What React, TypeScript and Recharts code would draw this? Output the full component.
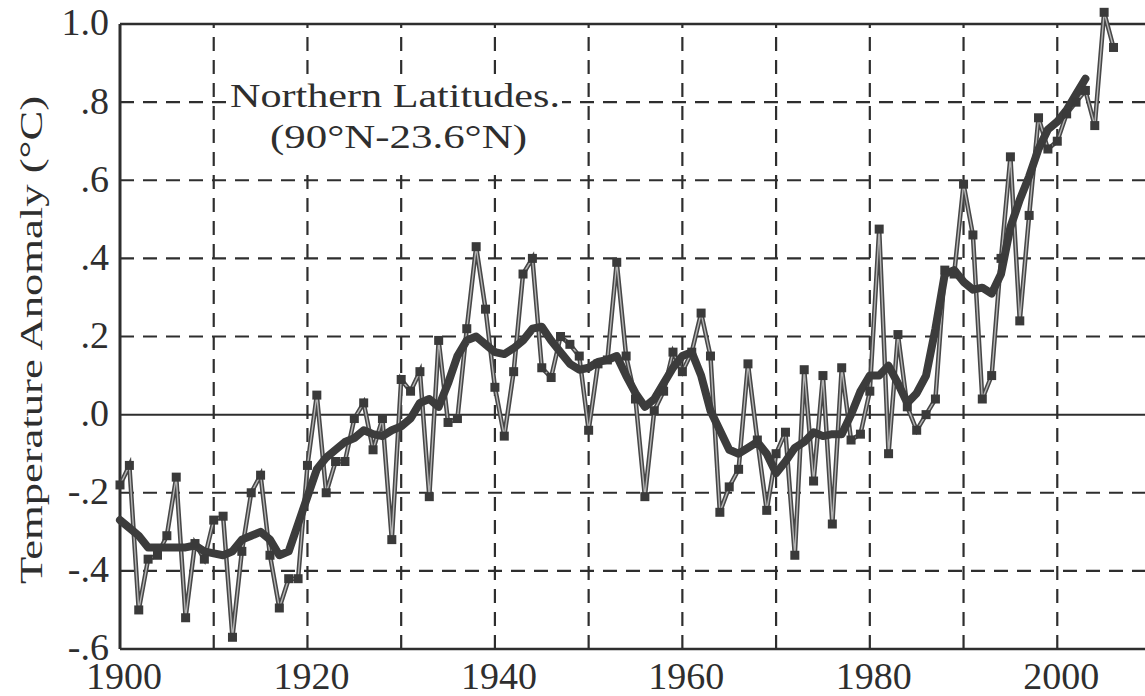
import React from 'react';
import { LineChart, Line, XAxis, YAxis, ReferenceLine } from 'recharts';

const startYear = 1900;

// Annual Northern-latitude temperature anomaly (°C), 1900–2006
const annualAnomaly = [
  -0.18, -0.13, -0.5, -0.37, -0.36, -0.31, -0.16, -0.52, -0.33, -0.37,
  -0.27, -0.26, -0.57, -0.35, -0.2, -0.155, -0.36, -0.495, -0.42, -0.42,
  -0.13, 0.05, -0.2, -0.12, -0.12, -0.01, 0.03, -0.09, -0.01, -0.32,
  0.09, 0.06, 0.11, -0.21, 0.19, -0.02, -0.01, 0.22, 0.43, 0.27,
  0.07, -0.055, 0.11, 0.36, 0.4, 0.12, 0.095, 0.2, 0.18, 0.15,
  -0.04, 0.13, 0.14, 0.39, 0.15, 0.04, -0.21, 0.01, 0.06, 0.16,
  0.11, 0.16, 0.26, 0.15, -0.25, -0.185, -0.14, 0.13, -0.065, -0.245,
  -0.1, -0.045, -0.36, 0.115, -0.17, 0.1, -0.28, 0.12, -0.065, -0.05,
  0.06, 0.475, -0.1, 0.205, 0.02, -0.04, 0.0, 0.04, 0.37, 0.36,
  0.59, 0.46, 0.04, 0.1, 0.4, 0.66, 0.24, 0.51, 0.76, 0.68,
  0.7, 0.77, 0.8, 0.83, 0.74, 1.03, 0.94,
];

// Smoothed (running mean) anomaly, 1900–2003
const smoothedAnomaly = [
  -0.27, -0.29, -0.31, -0.34, -0.34, -0.34, -0.34, -0.34, -0.335, -0.35,
  -0.355, -0.36, -0.35, -0.32, -0.31, -0.3, -0.32, -0.36, -0.35, -0.28,
  -0.21, -0.14, -0.11, -0.09, -0.07, -0.06, -0.04, -0.05, -0.055, -0.04,
  -0.03, -0.01, 0.03, 0.04, 0.02, 0.08, 0.15, 0.19, 0.2, 0.18,
  0.16, 0.155, 0.17, 0.19, 0.22, 0.225, 0.19, 0.16, 0.13, 0.115,
  0.12, 0.135, 0.14, 0.15, 0.1, 0.055, 0.02, 0.04, 0.08, 0.12,
  0.15, 0.16, 0.1, 0.01, -0.04, -0.09, -0.1, -0.085, -0.07, -0.1,
  -0.15, -0.12, -0.085, -0.07, -0.045, -0.055, -0.05, -0.05, 0.0, 0.06,
  0.1, 0.1, 0.125, 0.08, 0.03, 0.055, 0.1, 0.22, 0.36, 0.37,
  0.34, 0.32, 0.325, 0.31, 0.36, 0.48, 0.55, 0.61, 0.68, 0.73,
  0.75, 0.78, 0.82, 0.86,
];

const xTickYears = [1900, 1920, 1940, 1960, 1980, 2000];
const gridYears = [1910, 1920, 1930, 1940, 1950, 1960, 1970, 1980, 1990, 2000];
const yTicks = [-0.6, -0.4, -0.2, 0, 0.2, 0.4, 0.6, 0.8, 1.0];
const yTickLabels = ['-.6', '-.4', '-.2', '.0', '.2', '.4', '.6', '.8', '1.0'];
const dashedLevels = [-0.4, -0.2, 0.2, 0.4, 0.6, 0.8];

const data = annualAnomaly.map((v, i) => ({
  year: startYear + i,
  annual: v,
  smooth: i < smoothedAnomaly.length ? smoothedAnomaly[i] : null,
}));

const INK = '#2e2e2e';
const FONT = '"Liberation Serif", "Times New Roman", serif';

const YTick = (props: any) => {
  const { x, y, payload } = props;
  const idx = yTicks.findIndex((t) => Math.abs(t - payload.value) < 1e-9);
  return (
    <text x={x} y={y} dy="0.3em" textAnchor="end" fontFamily={FONT} fontSize={38} fill={INK}>
      {idx >= 0 ? yTickLabels[idx] : ''}
    </text>
  );
};

const XTick = (props: any) => {
  const { x, y, payload } = props;
  return (
    <text x={x + 4} y={y} dy={40} textAnchor="middle" fontFamily={FONT} fontSize={38} fill={INK}>
      {String(payload.value)}
    </text>
  );
};

const SquareDot = (props: any) => {
  const { cx, cy, index } = props;
  if (cx == null || cy == null) return <g key={`d${index}`} />;
  return <rect key={`d${index}`} x={cx - 4.5} y={cy - 4.5} width={9} height={9} fill="#3a3a3a" />;
};

const Overlay = () => (
  <svg
    width={1145}
    height={696}
    style={{ position: 'absolute', left: 0, top: 0, pointerEvents: 'none' }}
  >
    <rect x={226} y={80} width={336} height={88} fill="#ffffff" />
    <text x={230} y={107} fontFamily={FONT} fontSize={33} fill={INK} textLength={330} lengthAdjust="spacingAndGlyphs">
      Northern Latitudes.
    </text>
    <text x={270} y={148} fontFamily={FONT} fontSize={33} fill={INK} textLength={257} lengthAdjust="spacingAndGlyphs">
      (90°N-23.6°N)
    </text>
    <text
      transform="translate(42,340) rotate(-90)"
      textAnchor="middle"
      fontFamily={FONT}
      fontSize={32}
      fill={INK}
      textLength={488}
      lengthAdjust="spacingAndGlyphs"
    >
      Temperature Anomaly (°C)
    </text>
  </svg>
);

export default function App() {
  return (
    <div
      style={{
        position: 'fixed',
        left: 0,
        top: 0,
        width: 1145,
        height: 696,
        overflow: 'hidden',
        background: '#ffffff',
      }}
    >
      <LineChart width={1160} height={696} data={data} margin={{ top: 4.5, right: 9, bottom: 0, left: 0 }}>
        <XAxis
          type="number"
          dataKey="year"
          domain={[1900, 2010]}
          ticks={xTickYears}
          tick={<XTick />}
          tickLine={false}
          tickSize={0}
          tickMargin={0}
          height={47}
          axisLine={{ stroke: INK, strokeWidth: 2.5 }}
          interval={0}
        />
        <YAxis
          type="number"
          domain={[-0.6, 1.05]}
          ticks={yTicks}
          tick={<YTick />}
          tickLine={false}
          tickSize={0}
          tickMargin={11}
          width={120}
          axisLine={false}
          interval={0}
        />
        {dashedLevels.map((lv) => (
          <ReferenceLine key={`h${lv}`} y={lv} stroke={INK} strokeWidth={2.2} strokeDasharray="14 9" />
        ))}
        {gridYears.map((yr) => (
          <ReferenceLine
            key={`v${yr}`}
            segment={[
              { x: yr, y: -0.6 },
              { x: yr, y: 1.0 },
            ]}
            stroke={INK}
            strokeWidth={2.2}
            strokeDasharray="14 9"
          />
        ))}
        <ReferenceLine y={0} stroke={INK} strokeWidth={2} />
        <ReferenceLine y={1.0} stroke={INK} strokeWidth={2.5} />
        <ReferenceLine
          segment={[
            { x: 1900, y: -0.6 },
            { x: 1900, y: 1.0 },
          ]}
          stroke={INK}
          strokeWidth={3}
        />
        <Line
          name="annual-outline"
          dataKey="annual"
          stroke="#474747"
          strokeWidth={4.5}
          dot={false}
          activeDot={false}
          isAnimationActive={false}
        />
        <Line
          name="annual-core"
          dataKey="annual"
          stroke="#b4b4b4"
          strokeWidth={1.4}
          dot={false}
          activeDot={false}
          isAnimationActive={false}
        />
        <Line
          name="smoothed"
          dataKey="smooth"
          stroke="#3c3c3c"
          strokeWidth={8}
          strokeLinejoin="round"
          strokeLinecap="round"
          dot={false}
          activeDot={false}
          connectNulls={false}
          isAnimationActive={false}
        />
        <Line
          name="annual-markers"
          dataKey="annual"
          stroke="none"
          dot={<SquareDot />}
          activeDot={false}
          isAnimationActive={false}
        />
      </LineChart>
      <Overlay />
    </div>
  );
}
